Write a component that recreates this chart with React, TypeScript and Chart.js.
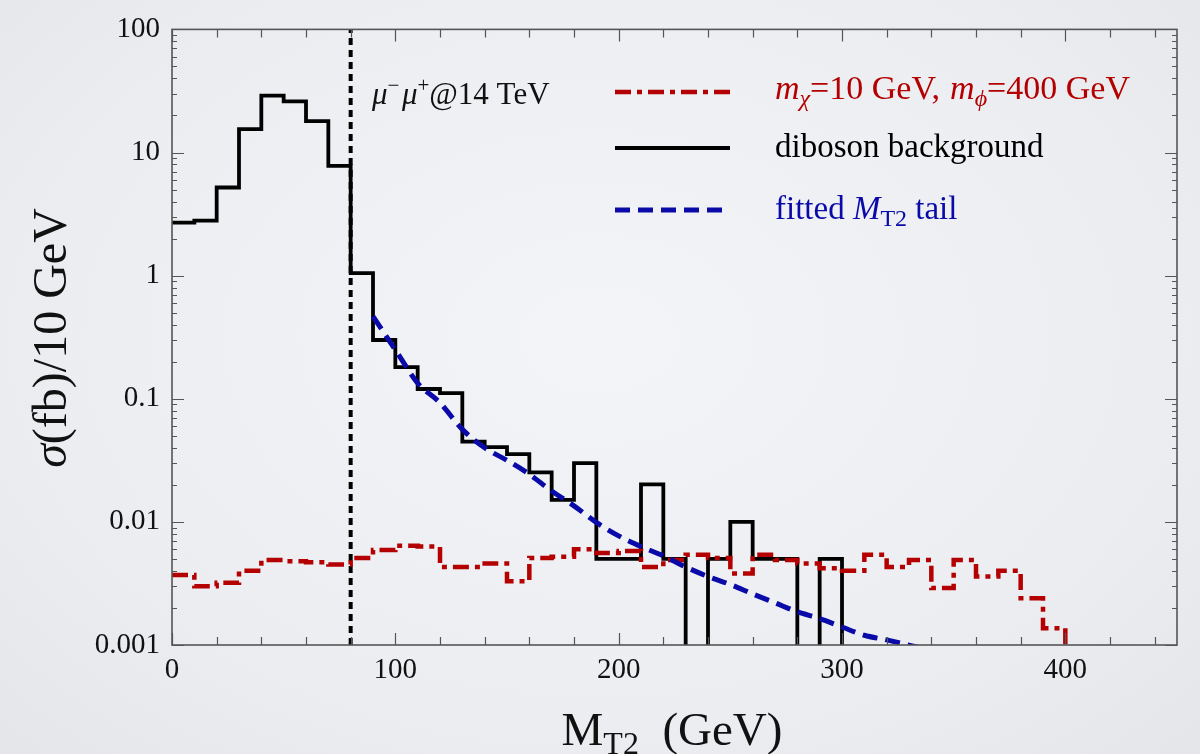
import React, { useEffect, useRef } from "react";
import { Chart, registerables } from "chart.js";

Chart.register(...registerables);

// ---------- data ----------
const dibosonEdges = [0, 10, 20, 30, 40, 50, 60, 70, 80, 90, 100, 110, 120, 130, 140, 150, 160, 170, 180, 190, 200, 210, 220, 230, 240, 250, 260, 270, 280, 290];
const dibosonValues = [2.7, 2.8, 5.2, 15.5, 29, 26, 18, 7.8, 1.05, 0.3, 0.181, 0.12, 0.111, 0.0448, 0.0405, 0.0355, 0.0252, 0.0151, 0.03, 0.005, 0.005, 0.0202, 0.005, 0, 0.005, 0.01, 0.005, 0.005, 0, 0.005];

const signalEdges = [0, 10, 20, 30, 40, 50, 60, 70, 80, 90, 100, 110, 120, 130, 140, 150, 160, 170, 180, 190, 200, 210, 220, 230, 240, 250, 260, 270, 280, 290, 300, 310, 320, 330, 340, 350, 360, 370, 380, 390];
const signalValues = [0.0037, 0.003, 0.0032, 0.004, 0.0049, 0.0048, 0.0047, 0.0045, 0.0051, 0.0059, 0.0064, 0.0063, 0.0043, 0.0043, 0.0046, 0.0033, 0.0051, 0.0052, 0.006, 0.0056, 0.0058, 0.0043, 0.0049, 0.0054, 0.0051, 0.0038, 0.0054, 0.0049, 0.0046, 0.0042, 0.004, 0.0054, 0.0043, 0.0049, 0.0029, 0.0049, 0.0036, 0.004, 0.0024, 0.00137];

const tailMass = [90, 100, 110, 120, 130, 140, 150, 160, 170, 180, 190, 200, 210, 220, 230, 240, 250, 260, 270, 280, 290, 300, 310, 320, 335];
const tailValues = [0.466, 0.25, 0.134, 0.0927, 0.0564, 0.04, 0.0316, 0.0244, 0.0178, 0.0135, 0.0099, 0.0077, 0.0063, 0.0053, 0.0043, 0.0036, 0.0031, 0.0026, 0.0022, 0.00186, 0.00164, 0.0014, 0.0012, 0.0011, 0.00095];

const cutMass = 80;
const binWidth = 10;

const xTickValues = [0, 100, 200, 300, 400];
const yTickValues = [0.001, 0.01, 0.1, 1, 10, 100];
const yTickLabels = ["0.001", "0.01", "0.1", "1", "10", "100"];

// ---------- styles ----------
const RED = "#b40000";
const BLUE = "#0a0aa8";
const SERIF = "'Liberation Serif', 'Times New Roman', serif";
const FLOOR = 1e-7; // empty bins drop below the axis floor

function histPoints(edges: number[], values: number[]) {
  const pts = edges.map((e, i) => ({ x: e, y: values[i] > 0 ? values[i] : FLOOR }));
  const last = edges[edges.length - 1] + binWidth;
  pts.push({ x: last, y: pts[pts.length - 1].y });
  pts.push({ x: last, y: FLOOR });
  return pts;
}

type Part = { t: string; size: number; italic?: boolean; dy?: number };

function partFont(p: Part) {
  return `${p.italic ? "italic " : ""}${p.size}px ${SERIF}`;
}

function richWidth(ctx: CanvasRenderingContext2D, parts: Part[]) {
  let w = 0;
  for (const p of parts) {
    ctx.font = partFont(p);
    w += ctx.measureText(p.t).width;
  }
  return w;
}

function drawRich(ctx: CanvasRenderingContext2D, x: number, y: number, parts: Part[], color: string) {
  ctx.fillStyle = color;
  ctx.textBaseline = "alphabetic";
  ctx.textAlign = "left";
  let cx = x;
  for (const p of parts) {
    ctx.font = partFont(p);
    ctx.fillText(p.t, cx, y + (p.dy || 0));
    cx += ctx.measureText(p.t).width;
  }
}

const decorPlugin = {
  id: "decor",
  afterDraw(chart: any) {
    const ctx: CanvasRenderingContext2D = chart.ctx;
    const { left, right, top, bottom } = chart.chartArea;
    const xs = chart.scales.x;
    const ys = chart.scales.y;
    ctx.save();
    // frame
    ctx.strokeStyle = "#555";
    ctx.lineWidth = 1.6;
    ctx.strokeRect(left, top, right - left, bottom - top);
    // x ticks
    ctx.lineWidth = 1.2;
    ctx.beginPath();
    for (let v = 0; v <= 440; v += 20) {
      const px = Math.round(xs.getPixelForValue(v)) + 0.5;
      const len = v % 100 === 0 ? 12 : 8;
      ctx.moveTo(px, bottom);
      ctx.lineTo(px, bottom - len);
      ctx.moveTo(px, top);
      ctx.lineTo(px, top + len);
    }
    // y ticks
    for (let d = 0; d < yTickValues.length; d++) {
      const dec = yTickValues[d];
      for (let m = 1; m <= 9; m++) {
        if (d === yTickValues.length - 1 && m > 1) break;
        const py = Math.round(ys.getPixelForValue(dec * m)) + 0.5;
        const len = m === 1 ? 12 : 5;
        ctx.moveTo(left, py);
        ctx.lineTo(left + len, py);
        ctx.moveTo(right, py);
        ctx.lineTo(right - len, py);
      }
    }
    ctx.stroke();

    // legend
    const ds = chart.data.datasets;
    const rows = [
      { d: ds[1], y: 92, parts: [
        { t: "m", size: 34, italic: true },
        { t: "χ", size: 24, italic: true, dy: 7 },
        { t: "=10 GeV,", size: 34 },
        { t: "  ", size: 20 },
        { t: "m", size: 34, italic: true },
        { t: "ϕ", size: 24, italic: true, dy: 7 },
        { t: "=400 GeV", size: 34 },
      ], color: RED, base: 99 },
      { d: ds[2], y: 148, parts: [{ t: "diboson background", size: 33 }], color: "#000", base: 157 },
      { d: ds[0], y: 210, parts: [
        { t: "fitted ", size: 33 },
        { t: "M", size: 33, italic: true },
        { t: "T2", size: 24, dy: 7 },
        { t: " tail", size: 33 },
      ], color: BLUE, base: 219 },
    ];
    for (const r of rows) {
      ctx.save();
      ctx.strokeStyle = r.d.borderColor;
      ctx.lineWidth = r.d.borderWidth;
      ctx.setLineDash(r.d.borderDash || []);
      ctx.beginPath();
      ctx.moveTo(615, r.y);
      ctx.lineTo(730, r.y);
      ctx.stroke();
      ctx.restore();
      drawRich(ctx, 775, r.base, r.parts as Part[], r.color);
    }

    // annotation
    drawRich(ctx, 372, 104, [
      { t: "μ", size: 31, italic: true },
      { t: "−", size: 21, dy: -12 },
      { t: " ", size: 10 },
      { t: "μ", size: 31, italic: true },
      { t: "+", size: 21, dy: -12 },
      { t: "@14 TeV", size: 31 },
    ], "#111");

    // x title
    const xParts: Part[] = [
      { t: "M", size: 47 },
      { t: "T2", size: 32, dy: 9 },
      { t: "  (GeV)", size: 47 },
    ];
    const xw = richWidth(ctx, xParts);
    drawRich(ctx, 672 - xw / 2, 745, xParts, "#111");

    // y title
    const yParts: Part[] = [
      { t: "σ", size: 48, italic: true },
      { t: "(fb)/10 GeV", size: 48 },
    ];
    const yw = richWidth(ctx, yParts);
    ctx.save();
    ctx.translate(66, 338);
    ctx.rotate(-Math.PI / 2);
    drawRich(ctx, -yw / 2, 0, yParts, "#111");
    ctx.restore();

    ctx.restore();
  },
};

export default function App() {
  const ref = useRef<HTMLCanvasElement | null>(null);

  useEffect(() => {
    const canvas = ref.current;
    if (!canvas) return;
    const chart = new Chart(canvas, {
      type: "line",
      data: {
        datasets: [
          {
            label: "fitted MT2 tail",
            data: tailMass.map((m, i) => ({ x: m, y: tailValues[i] })),
            borderColor: BLUE,
            borderWidth: 5,
            borderDash: [15, 8],
            pointRadius: 0,
            fill: false,
            cubicInterpolationMode: "monotone",
            clip: 0,
          },
          {
            label: "mχ=10 GeV, mϕ=400 GeV",
            data: histPoints(signalEdges, signalValues),
            borderColor: RED,
            borderWidth: 4.5,
            borderDash: [16, 6, 5, 6],
            pointRadius: 0,
            fill: false,
            stepped: "before",
            clip: 0,
          },
          {
            label: "diboson background",
            data: histPoints(dibosonEdges, dibosonValues),
            borderColor: "#000",
            borderWidth: 3.8,
            pointRadius: 0,
            fill: false,
            stepped: "before",
            clip: 0,
          },
          {
            label: "cut",
            data: [
              { x: cutMass, y: yTickValues[0] },
              { x: cutMass, y: yTickValues[yTickValues.length - 1] },
            ],
            borderColor: "#000",
            borderWidth: 4,
            borderDash: [7, 5],
            pointRadius: 0,
            fill: false,
            clip: 0,
          },
        ] as any,
      },
      options: {
        animation: false,
        responsive: false,
        devicePixelRatio: 1,
        layout: { padding: { left: 0, top: 27, right: 23, bottom: 0 } },
        plugins: { legend: { display: false }, tooltip: { enabled: false } },
        scales: {
          x: {
            type: "linear",
            min: 0,
            max: 450,
            grid: { display: false, drawTicks: false },
            border: { display: false },
            ticks: {
              font: { family: SERIF, size: 29 },
              color: "#111",
              padding: 8,
              maxRotation: 0,
              autoSkip: false,
            },
            afterBuildTicks: (scale: any) => {
              scale.ticks = xTickValues.map((v) => ({ value: v }));
            },
            afterFit: (scale: any) => {
              scale.height = 109;
            },
          },
          y: {
            type: "logarithmic",
            min: 0.001,
            max: 100,
            grid: { display: false, drawTicks: false },
            border: { display: false },
            ticks: {
              font: { family: SERIF, size: 29 },
              color: "#111",
              padding: 12,
              autoSkip: false,
              callback: (_v: any, i: number) => yTickLabels[i],
            },
            afterBuildTicks: (scale: any) => {
              scale.ticks = yTickValues.map((v) => ({ value: v }));
            },
            afterFit: (scale: any) => {
              scale.width = 172;
            },
          },
        },
      } as any,
      plugins: [decorPlugin],
    });
    return () => chart.destroy();
  }, []);

  return (
    <div
      style={{
        position: "fixed",
        left: 0,
        top: 0,
        width: 1200,
        height: 754,
        background: "radial-gradient(ellipse at 50% 45%, #f3f4f7 0%, #eceef1 60%, #e4e6ea 100%)",
      }}
    >
      <canvas ref={ref} width={1200} height={754} style={{ display: "block", width: 1200, height: 754 }} />
    </div>
  );
}
